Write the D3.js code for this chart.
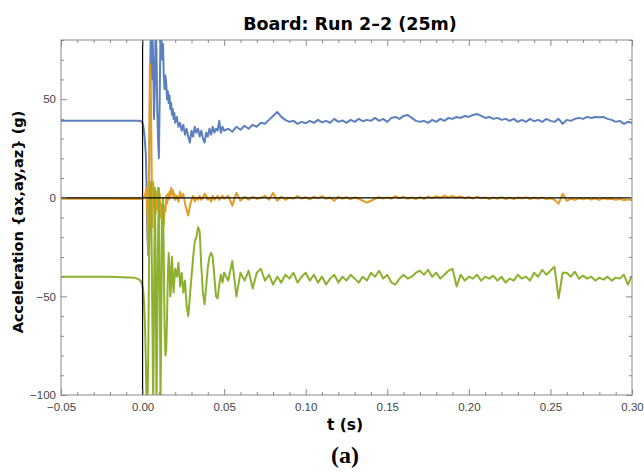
<!DOCTYPE html>
<html>
<head>
<meta charset="utf-8">
<script src="https://cdnjs.cloudflare.com/ajax/libs/d3/7.8.5/d3.min.js"></script>
<style>
    body { margin: 0; background: #fff; }
    .tick text { font-family: "Liberation Sans", Arial, sans-serif; font-size: 11.5px; fill: #444; }
    .tick line { stroke: #8a8a8a; }
</style>
</head>
<body>
<div id="chart-area"></div>
<script>

// sample times in ms (dense around the impact, coarser afterwards)
var tEarly = [-50, -20, -5, -2, -1, -0.5,
    0, 0.5, 1, 1.5, 2, 2.5, 3, 3.5, 4, 4.5, 5, 5.5, 6, 6.5, 7, 7.5, 8, 8.5, 9, 9.5,
    10, 10.5, 11, 11.5, 12, 12.5, 13, 13.5, 14, 14.5, 15, 15.5, 16, 16.5, 17, 17.5, 18, 18.5, 19, 19.5, 20];
var tMid = d3.range(21, 51, 1);          // 21 .. 50 ms
var tLate = d3.range(52.5, 300.1, 2.5);  // 52.5 .. 300 ms

// ax (blue)
var axEarly = [39, 39, 39, 39, 38.8, 38.4,
    38, 36, 33, 28, 22, 5, -20, -29, 10, 50, 85, 60, 85, 70, 40, 55, 85, 75, 45, 30,
    20, 50, 85, 85, 70, 78, 62, 55, 62, 58, 50, 54, 48, 52, 45, 48, 42, 45, 40, 43, 38];
var axMid = [41, 36, 38, 34, 37, 32, 35, 31, 28, 34,
    31, 36, 33, 35, 31, 34, 30, 28, 33, 31,
    35, 32, 36, 33, 35, 34, 39, 33, 36, 34];
var axLate = [35, 33.5, 36, 34.5, 36.5, 35, 37, 36, 38, 37.5,
    39.5, 41.5, 43.5, 41, 39.5, 38.5, 39, 37.5, 38.5, 37.8,
    39, 38, 39.5, 38.2, 39, 38, 40, 38.5, 39.2, 38,
    39.5, 38.5, 40, 38.8, 39.5, 39, 40.5, 39, 40, 38.5,
    40.5, 41, 40, 41.5, 42, 40.5, 39, 38.5, 39, 38,
    39.5, 38.5, 40, 39, 40.5, 40, 41, 40.5, 41.5, 41,
    42, 42.5, 41.5, 40.5, 41, 40, 40.5, 39.5, 40, 39,
    40, 38.5, 39.5, 38.5, 40, 38.8, 39.5, 38.5, 40, 39,
    38.5, 40, 37.5, 39.5, 39, 40, 40.5, 40, 41, 40.5,
    41, 40.8, 41, 40, 39.5, 38.5, 39, 37.5, 38.5, 38];

// ay (orange)
var ayEarly = [-0.5, -0.5, -0.6, -0.6, -0.5, -0.4,
    -0.3, 0, 0.5, 1.5, 3, 5, -10, -28, 10, 68, 60, 20, -15, 8, -5, 4, -8, 3, -6, 5,
    -4, 2, -10, -3, -15, -8, -14, -4, -7, 1, -3, 2, -1, 3, 0, 5, 2, 4, 0, 2, -1];
var ayMid = [1, -2, 3, 0, 2, -3, -6, -9, -4, -1,
    1, -2, 0, -1, 1, -1, 0, 2, 1, -1,
    0, -2, 1, -1, 0, 1, -1, 0, 1, -0.5];
var ayLate = [1, -4, 2.5, -1.5, 0.5, -1, 0.5, -0.5, 0, 1,
    -1, 2.5, -1.5, 0.5, -1, 0, -0.5, 0.8, -0.5, 0.3,
    -0.8, 0.5, -0.3, 0.8, -0.5, 0.2, -1.5, 0.5, -0.5, 0.3,
    -0.8, 0.2, -0.5, -1.5, -2.5, -1.5, -0.5, 0.3, -0.4, 0.2,
    -0.5, 0.8, -0.3, 0.5, -0.5, 0.2, -0.6, 0.3, -0.5, 0.6,
    -0.2, 0.8, 0, 1, 0.2, 0.9, 0.1, 0.7, -0.3, 0.5,
    -0.4, 0.6, -0.3, 0.2, -0.6, 0.1, -0.5, 0.3, -0.6, 0,
    -0.7, 0.1, -0.4, 0.2, -0.6, 0, -0.5, 0.2, -0.8, -0.3,
    -1, -3, 2, -1.5, -0.5, -1, -0.3, -0.8, -0.2, -0.9,
    -0.4, -1, -0.3, -0.8, -0.5, -1, -0.6, -1.2, -0.8, -1.3];

// az (green)
var azEarly = [-40, -40.1, -40.5, -41.5, -42.5, -43.5,
    -45, -48, -55, -65, -82, -105, -105, -80, -30, 0, 8, -20, -60, -105, -60, 5, -30, -105, -70, -20,
    5, -40, -105, -60, -10, 0, -30, -65, -80, -77, -60, -40, -28, -35, -50, -45, -30, -38, -48, -42, -36];
var azMid = [-40, -33, -45, -38, -48, -42, -55, -60, -50, -40,
    -30, -22, -20, -15, -17, -35, -48, -54, -45, -35,
    -30, -28, -30, -40, -50, -51, -44, -39, -43, -38];
var azLate = [-42, -32, -50, -38, -42, -37, -46, -38, -36, -42,
    -39, -44, -40, -43, -39, -41, -38, -43, -40, -38,
    -42, -39, -43, -40, -44, -41, -39, -43, -40, -42,
    -39, -41, -43, -40, -42, -38, -40, -37, -41, -39,
    -43, -44, -41, -39, -41, -40, -38, -37, -39, -36.5,
    -40, -38, -41, -39, -37, -36, -45, -39, -42, -40,
    -41, -39, -42, -40, -41, -39.5, -42, -40, -43, -41,
    -42, -39, -41, -40, -42, -38, -40, -36.5, -39, -37,
    -35, -51, -38, -38, -40, -37.5, -41, -39.5, -41, -40,
    -42, -40.5, -41.5, -40, -42, -40.5, -41, -39, -44, -39.5];

var seriesNames = ["ax", "ay", "az"];
var seriesColors = ["#5b80bd", "#e29d22", "#8eb02f"];

var xMajor = [-0.05, 0, 0.05, 0.10, 0.15, 0.20, 0.25, 0.30];
var yMajor = [-100, -50, 0, 50];

var titleText = "Board: Run 2\u20132 (25m)";
var xLabel = "t (s)";
var yLabel = "Acceleration {ax,ay,az} (g)";
var panelLabel = "(a)";


var margin = { top: 40, right: 12, bottom: 79, left: 61 };
var width = 644 - margin.left - margin.right;
var height = 474 - margin.top - margin.bottom;

var svg = d3.select("#chart-area").append("svg")
    .attr("width", 644)
    .attr("height", 474);

var g = svg.append("g")
    .attr("transform", "translate(" + margin.left + "," + margin.top + ")");

// Scales
var x = d3.scaleLinear().domain([-0.05, 0.30]).range([0, width]);
var y = d3.scaleLinear().domain([-100, 80]).range([height, 0]);

// build the three series as {t, v} points
var times = tEarly.concat(tMid, tLate);
var series = [
    axEarly.concat(axMid, axLate),
    ayEarly.concat(ayMid, ayLate),
    azEarly.concat(azMid, azLate)
].map(function(vals) {
    return vals.map(function(v, i) { return { t: times[i] / 1000, v: v }; });
});

g.append("defs").append("clipPath")
    .attr("id", "clip")
    .append("rect")
    .attr("width", width)
    .attr("height", height);

var line = d3.line()
    .x(function(d) { return x(d.t); })
    .y(function(d) { return y(d.v); });

g.append("g")
    .attr("clip-path", "url(#clip)")
    .selectAll(".series")
    .data(series)
    .enter()
    .append("path")
    .attr("class", "series")
    .attr("d", line)
    .attr("fill", "none")
    .attr("stroke", function(d, i) { return seriesColors[i]; })
    .attr("stroke-width", 2)
    .attr("stroke-linejoin", "round");

// zero axes lines (drawn over the data)
g.append("line")
    .attr("x1", 0).attr("x2", width)
    .attr("y1", y(0)).attr("y2", y(0))
    .attr("stroke", "#000").attr("stroke-width", 1.2);
g.append("line")
    .attr("x1", x(0)).attr("x2", x(0))
    .attr("y1", 0).attr("y2", height)
    .attr("stroke", "#000").attr("stroke-width", 1.2);

// Frame ticks: majors + minors, pointing inward
var xMinor = d3.range(-0.05, 0.3001, 0.01).filter(function(d) {
    return xMajor.every(function(m) { return Math.abs(m - d) > 1e-6; });
});
var yMinor = d3.range(-100, 80.1, 10).filter(function(d) { return yMajor.indexOf(d) < 0; });

function addAxis(axis, tr) {
    var a = g.append("g").attr("transform", tr).call(axis);
    a.select(".domain").remove();
    return a;
}

addAxis(d3.axisBottom(x).tickValues(xMajor).tickSize(-6).tickPadding(8)
    .tickFormat(d3.format(".2f")), "translate(0," + height + ")");
addAxis(d3.axisBottom(x).tickValues(xMinor).tickSize(-3).tickFormat(""), "translate(0," + height + ")");
addAxis(d3.axisTop(x).tickValues(xMajor).tickSize(-6).tickFormat(""), "translate(0,0)");
addAxis(d3.axisTop(x).tickValues(xMinor).tickSize(-3).tickFormat(""), "translate(0,0)");

addAxis(d3.axisLeft(y).tickValues(yMajor).tickSize(-6).tickPadding(5)
    .tickFormat(d3.format("d")), "translate(0,0)");
addAxis(d3.axisLeft(y).tickValues(yMinor).tickSize(-3).tickFormat(""), "translate(0,0)");
addAxis(d3.axisRight(y).tickValues(yMajor).tickSize(-6).tickFormat(""), "translate(" + width + ",0)");
addAxis(d3.axisRight(y).tickValues(yMinor).tickSize(-3).tickFormat(""), "translate(" + width + ",0)");

// frame
g.append("rect")
    .attr("width", width)
    .attr("height", height)
    .attr("fill", "none")
    .attr("stroke", "#8a8a8a")
    .attr("stroke-width", 1);

// Texts
svg.append("text")
    .attr("x", 350).attr("y", 30)
    .attr("text-anchor", "middle")
    .style("font-family", "'DejaVu Sans', sans-serif")
    .style("font-weight", "bold")
    .style("font-size", "17.5px")
    .text(titleText);

svg.append("text")
    .attr("x", 345).attr("y", 430)
    .attr("text-anchor", "middle")
    .style("font-family", "'DejaVu Sans', sans-serif")
    .style("font-weight", "bold")
    .style("font-size", "15.5px")
    .text(xLabel);

svg.append("text")
    .attr("transform", "translate(23,222) rotate(-90)")
    .attr("text-anchor", "middle")
    .style("font-family", "'DejaVu Sans', sans-serif")
    .style("font-weight", "bold")
    .style("font-size", "14.5px")
    .text(yLabel);

svg.append("text")
    .attr("x", 345).attr("y", 463)
    .attr("text-anchor", "middle")
    .style("font-family", "'Liberation Serif', serif")
    .style("font-weight", "bold")
    .style("font-size", "24px")
    .text(panelLabel);

</script>
</body>
</html>
